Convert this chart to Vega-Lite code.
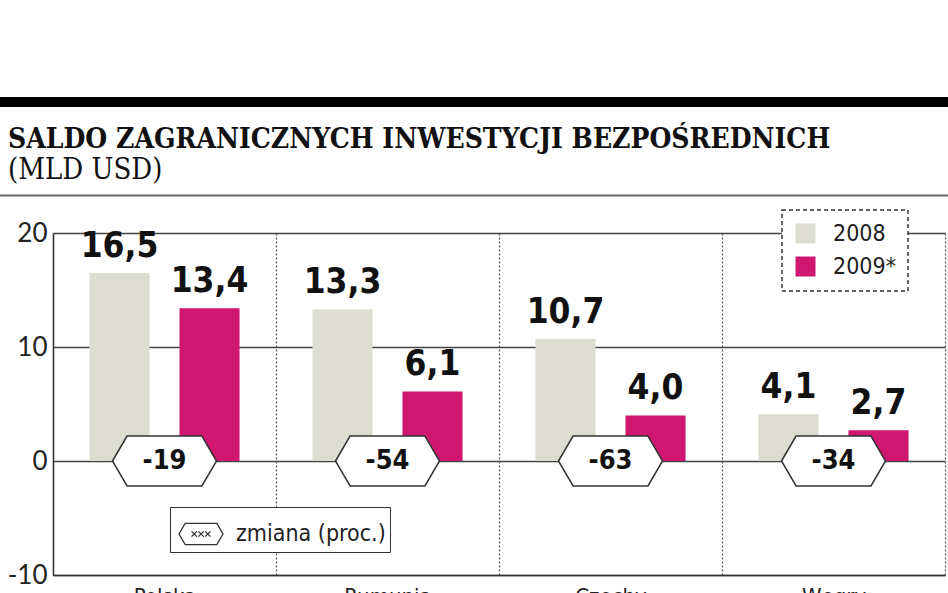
{
  "$schema": "https://vega.github.io/schema/vega-lite/v6.json",
  "width": 948,
  "height": 342,
  "autosize": {"type": "none"},
  "padding": {"left": 0, "top": 233, "right": 0, "bottom": 18},
  "background": "white",
  "config": {
    "view": {"stroke": null},
    "locale": {"number": {"decimal": ",", "thousands": " ", "grouping": [3], "currency": ["", " zł"], "minus": "-"}}
  },
  "title": {
    "text": "SALDO ZAGRANICZNYCH INWESTYCJI BEZPOŚREDNICH",
    "subtitle": "(MLD USD)",
    "anchor": "start",
    "frame": "bounds",
    "offset": -88,
    "dx": 13,
    "font": "DejaVu Serif Condensed",
    "fontSize": 28,
    "fontWeight": "bold",
    "color": "#111111",
    "subtitleFont": "DejaVu Serif Condensed",
    "subtitleFontSize": 29,
    "subtitleFontWeight": "normal",
    "subtitleColor": "#111111",
    "subtitlePadding": 2
  },
  "datasets": {
    "bars": [
      {"kraj": "Polska", "rok": "2008", "wartosc": 16.5},
      {"kraj": "Polska", "rok": "2009*", "wartosc": 13.4},
      {"kraj": "Rumunia", "rok": "2008", "wartosc": 13.3},
      {"kraj": "Rumunia", "rok": "2009*", "wartosc": 6.1},
      {"kraj": "Czechy", "rok": "2008", "wartosc": 10.7},
      {"kraj": "Czechy", "rok": "2009*", "wartosc": 4.0},
      {"kraj": "Węgry", "rok": "2008", "wartosc": 4.1},
      {"kraj": "Węgry", "rok": "2009*", "wartosc": 2.7}
    ],
    "zmiany": [
      {"kraj": "Polska", "zmiana": -19, "opis": "zmiana (proc.)"},
      {"kraj": "Rumunia", "zmiana": -54, "opis": "zmiana (proc.)"},
      {"kraj": "Czechy", "zmiana": -63, "opis": "zmiana (proc.)"},
      {"kraj": "Węgry", "zmiana": -34, "opis": "zmiana (proc.)"}
    ]
  },
  "layer": [
    {
      "data": {"values": [{}]},
      "mark": {"type": "rule", "color": "#000000", "strokeWidth": 10},
      "encoding": {"y": {"datum": 31.5, "type": "quantitative"}}
    },
    {
      "data": {"values": [{}]},
      "mark": {"type": "rule", "color": "#666666", "strokeWidth": 2},
      "encoding": {"y": {"datum": 23.3, "type": "quantitative"}}
    },
    {
      "data": {"name": "bars"},
      "mark": {"type": "bar"},
      "encoding": {
        "x": {
          "field": "kraj", "type": "nominal",
          "sort": ["Polska", "Rumunia", "Czechy", "Węgry"],
          "scale": {"range": [53, 945], "paddingInner": 0, "paddingOuter": 0},
          "axis": {
            "title": null, "tickBand": "extent", "grid": true, "gridDash": [2, 2],
            "gridColor": "#555555", "gridWidth": 1.2, "ticks": false,
            "domainColor": "#333333", "domainWidth": 1.5, "labelAngle": 0,
            "labelFont": "DejaVu Sans Condensed", "labelFontSize": 22, "labelColor": "#222222",
            "labelPadding": 11
          }
        },
        "xOffset": {
          "field": "rok", "type": "nominal",
          "scale": {"paddingInner": 0.333, "paddingOuter": 0.405}
        },
        "y": {
          "field": "wartosc", "type": "quantitative",
          "scale": {"domain": [-10, 20], "nice": false, "zero": false},
          "axis": {
            "title": null, "values": [-10, 0, 10, 20], "offset": -53, "grid": true,
            "gridColor": "#444444", "gridWidth": 1.5, "ticks": false,
            "domainColor": "#333333", "domainWidth": 1.5,
            "labelFont": "Lato", "labelFontSize": 26, "labelColor": "#222222", "labelPadding": 6
          }
        },
        "color": {
          "field": "rok", "type": "nominal",
          "scale": {"domain": ["2008", "2009*"], "range": ["#dcdcd0", "#cf1770"]},
          "legend": {
            "orient": "none", "legendX": 782, "legendY": -23, "title": null,
            "symbolType": "square", "symbolSize": 400, "symbolStrokeWidth": 0,
            "labelFont": "DejaVu Sans Condensed", "labelFontSize": 23, "labelColor": "#222222",
            "labelOffset": 16, "rowPadding": 9,
            "strokeColor": "#333333", "fillColor": "white", "padding": 12,
            "encode": {"legend": {"update": {"strokeDash": {"value": [4, 3]}, "strokeWidth": {"value": 1.5}}}}
          }
        }
      }
    },
    {
      "data": {"name": "bars"},
      "mark": {"type": "text", "baseline": "bottom", "dy": -9, "font": "DejaVu Sans Condensed", "fontWeight": "bold", "fontSize": 35, "color": "#111111"},
      "encoding": {
        "x": {"field": "kraj", "type": "nominal", "sort": ["Polska", "Rumunia", "Czechy", "Węgry"]},
        "xOffset": {"field": "rok", "type": "nominal"},
        "y": {"field": "wartosc", "type": "quantitative"},
        "text": {"field": "wartosc", "type": "quantitative", "format": ".1f"}
      }
    },
    {
      "data": {"name": "zmiany"},
      "mark": {"type": "point", "filled": true, "fill": "white", "strokeWidth": 1.5, "opacity": 1, "size": 10816,
               "shape": "M-1,0L-0.72,-0.48L0.72,-0.48L1,0L0.72,0.48L-0.72,0.48Z"},
      "encoding": {
        "x": {"field": "kraj", "type": "nominal", "sort": ["Polska", "Rumunia", "Czechy", "Węgry"]},
        "y": {"datum": 0, "type": "quantitative"},
        "stroke": {
          "field": "opis", "type": "nominal",
          "scale": {"domain": ["zmiana (proc.)"], "range": ["#333333"]},
          "legend": {
            "orient": "none", "legendX": 170, "legendY": 274, "title": null,
            "symbolType": "M-1,0L-0.72,-0.48L0.72,-0.48L1,0L0.72,0.48L-0.72,0.48ZM-0.43,-0.12L-0.19,0.12M-0.43,0.12L-0.19,-0.12M-0.12,-0.12L0.12,0.12M-0.12,0.12L0.12,-0.12M0.19,-0.12L0.43,0.12M0.19,0.12L0.43,-0.12",
            "symbolSize": 1936, "symbolOffset": 4, "symbolFillColor": "white", "symbolStrokeWidth": 1.3,
            "labelFont": "DejaVu Sans Condensed", "labelFontSize": 23, "labelColor": "#222222", "labelOffset": 12,
            "strokeColor": "#333333", "fillColor": "white", "padding": 4,
            "encode": {
              "legend": {"update": {"strokeDash": {"value": [4, 3]}, "strokeWidth": {"value": 1.5}}},
              "symbols": {"update": {"fill": {"value": "white"}, "opacity": {"value": 1}}}
            }
          }
        }
      }
    },
    {
      "data": {"name": "zmiany"},
      "mark": {"type": "text", "font": "DejaVu Sans Condensed", "fontWeight": "bold", "fontSize": 27, "color": "#111111", "baseline": "middle"},
      "encoding": {
        "x": {"field": "kraj", "type": "nominal", "sort": ["Polska", "Rumunia", "Czechy", "Węgry"]},
        "y": {"datum": 0, "type": "quantitative"},
        "text": {"field": "zmiana", "type": "quantitative"}
      }
    }
  ]
}
